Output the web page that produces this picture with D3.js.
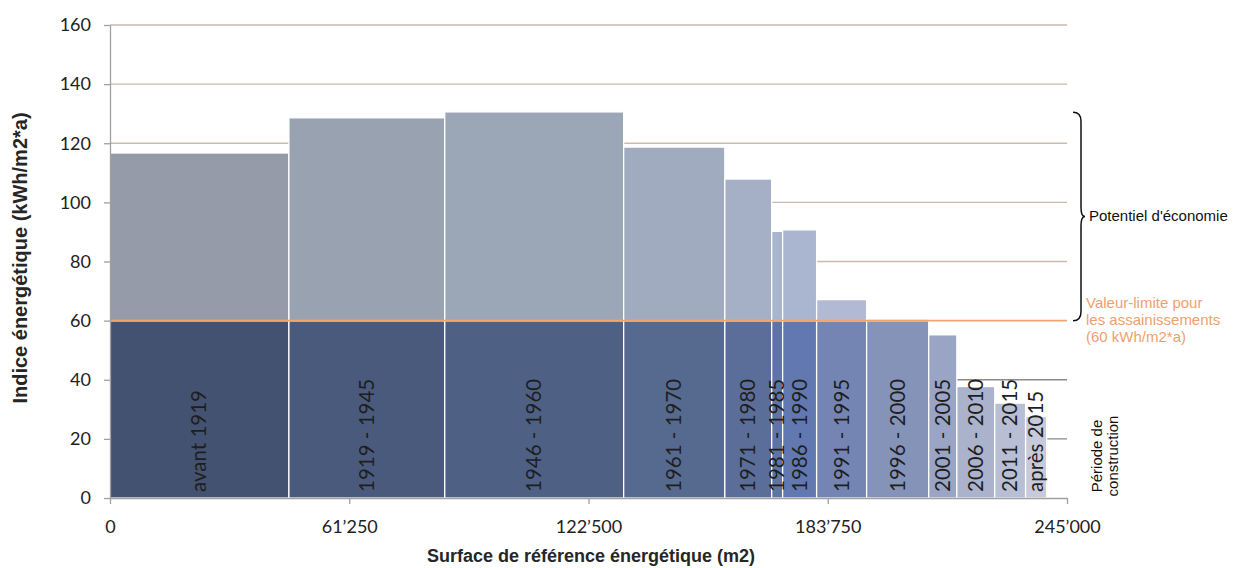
<!DOCTYPE html>
<html>
<head>
<meta charset="utf-8">
<script src="https://cdn.jsdelivr.net/npm/d3@7"></script>
<style>
  body { margin: 0; background: #fff; }
  svg { display: block; }
</style>
</head>
<body>
<div id="chart"></div>
<script>
const periods = ["avant 1919", "1919 - 1945", "1946 - 1960", "1961 - 1970", "1971 - 1980", "1981 - 1985",
    "1986 - 1990", "1991 - 1995", "1996 - 2000", "2001 - 2005", "2006 - 2010", "2011 - 2015", "après 2015"];
const surfaces = [45800, 39900, 45800, 25900, 12000, 2800, 8700, 12800, 15900, 7200, 9700, 7900, 5400]; // m2
const indices = [116.7, 128.6, 130.6, 118.7, 107.9, 90.2, 90.7, 67.1, 60.5, 55.2, 37.7, 32.1, 27.6]; // kWh/m2*a
const limitValue = 60;
const yTicks = [0, 20, 40, 60, 80, 100, 120, 140, 160];
const xTicks = [0, 61250, 122500, 183750, 245000];

// colours for the part below / above the limit
const lowColors = ["#435270", "#4a5a7c", "#4e6185", "#56698f", "#5b6e99", "#5f74a2", "#6179b0",
    "#7585b3", "#8593b8", "#9aa4c5", "#aab2cc", "#b8bed4", "#c6cadb"];
const highColors = ["#959ba8", "#99a2b1", "#9ba6b7", "#a0abbf", "#a5b0c6", "#a8b5cf", "#aab6d0",
    "#b1b9d3", "#b5bdd5", "#bcc3d8", "#c2c8db", "#c8cddf", "#cfd3e2"];

const width = 1234;
const height = 568;

const svg = d3.select("#chart")
    .append("svg")
    .attr("width", width)
    .attr("height", height);

const x = d3.scaleLinear().domain([0, 245000]).range([110, 1067]);
const y = d3.scaleLinear().domain([0, 160]).range([498, 25]);

// cumulative positions
let acc = 0;
const bars = periods.map((p, i) => {
    const d = { period: p, x0: acc, x1: acc + surfaces[i], value: indices[i], i: i };
    acc += surfaces[i];
    return d;
});

// Gridlines
svg.append("g")
    .selectAll("line")
    .data(yTicks.filter((t) => t > 0 && t !== limitValue))
    .join("line")
    .attr("x1", x(0))
    .attr("x2", x(245000))
    .attr("y1", (d) => y(d))
    .attr("y2", (d) => y(d))
    .attr("stroke", (d) => (d < limitValue ? "#8a8a8a" : "#cbb9ad"))
    .attr("stroke-width", 1.3);

// Bars (lower part up to the limit, upper part above it)
const barG = svg.append("g");

barG.selectAll("rect.low")
    .data(bars)
    .join("rect")
    .attr("class", "low")
    .attr("x", (d) => x(d.x0))
    .attr("width", (d) => x(d.x1) - x(d.x0))
    .attr("y", (d) => y(Math.min(d.value, limitValue)))
    .attr("height", (d) => y(0) - y(Math.min(d.value, limitValue)))
    .attr("fill", (d) => lowColors[d.i])
    .attr("stroke", "#fff")
    .attr("stroke-width", 1.3);

barG.selectAll("rect.high")
    .data(bars.filter((d) => d.value > limitValue))
    .join("rect")
    .attr("class", "high")
    .attr("x", (d) => x(d.x0))
    .attr("width", (d) => x(d.x1) - x(d.x0))
    .attr("y", (d) => y(d.value))
    .attr("height", (d) => y(limitValue) - y(d.value))
    .attr("fill", (d) => highColors[d.i])
    .attr("stroke", "#fff")
    .attr("stroke-width", 1.3);

// Limit line
svg.append("line")
    .attr("x1", x(0))
    .attr("x2", x(245000))
    .attr("y1", y(limitValue))
    .attr("y2", y(limitValue))
    .attr("stroke", "#f0a46e")
    .attr("stroke-width", 1.6);

// Period labels (rotated)
barG.selectAll("text")
    .data(bars)
    .join("text")
    .attr("transform", (d) => `translate(${(x(d.x0) + x(d.x1)) / 2 + 7},${y(0) - 6}) rotate(-90)`)
    .attr("text-anchor", "start")
    .attr("font-family", "Lato, sans-serif")
    .attr("font-size", "20.5px")
    .attr("fill", "#1e1e1e")
    .text((d) => d.period);

// Axes
const fmt = d3.formatLocale({ decimal: ".", thousands: "\u2019", grouping: [3], currency: ["", ""] }).format(",");

const yAxis = svg.append("g")
    .attr("transform", `translate(${x(0)},0)`)
    .call(d3.axisLeft(y).tickValues(yTicks).tickSize(6).tickPadding(13).tickSizeOuter(0));

const xAxis = svg.append("g")
    .attr("transform", `translate(0,${y(0)})`)
    .call(d3.axisBottom(x).tickValues(xTicks).tickFormat(fmt).tickSize(6).tickPadding(16).tickSizeOuter(0));

[yAxis, xAxis].forEach((ax) => {
    ax.select(".domain").attr("stroke", "#a0a0a0").attr("stroke-width", 1.3);
    ax.selectAll(".tick line").attr("stroke", "#a0a0a0").attr("stroke-width", 1.3);
    ax.selectAll(".tick text")
        .attr("font-family", "Lato, sans-serif")
        .attr("font-size", "18px")
        .attr("fill", "#222");
});

// Axis titles
svg.append("text")
    .attr("transform", "translate(27,258) rotate(-90)")
    .attr("text-anchor", "middle")
    .attr("font-family", "'Liberation Sans', Arial, sans-serif")
    .attr("font-weight", "bold")
    .attr("font-size", "20px")
    .attr("fill", "#262626")
    .text("Indice énergétique (kWh/m2*a)");

svg.append("text")
    .attr("x", 591)
    .attr("y", 562)
    .attr("text-anchor", "middle")
    .attr("font-family", "'Liberation Sans', Arial, sans-serif")
    .attr("font-weight", "bold")
    .attr("font-size", "18px")
    .attr("fill", "#262626")
    .text("Surface de référence énergétique (m2)");

// Curly brace for savings potential
const bx = 1073;
const bTop = y(130.5);
const bBot = y(limitValue);
const bMid = (bTop + bBot) / 2;
svg.append("path")
    .attr("d", `M${bx},${bTop} Q${bx + 8},${bTop} ${bx + 8},${bTop + 9}
        L${bx + 8},${bMid - 9} Q${bx + 8},${bMid} ${bx + 12},${bMid}
        Q${bx + 8},${bMid} ${bx + 8},${bMid + 9}
        L${bx + 8},${bBot - 9} Q${bx + 8},${bBot} ${bx},${bBot}`)
    .attr("fill", "none")
    .attr("stroke", "#111")
    .attr("stroke-width", 1.5);

svg.append("text")
    .attr("x", 1089)
    .attr("y", bMid + 5)
    .attr("font-family", "'Liberation Sans', Arial, sans-serif")
    .attr("font-size", "15px")
    .attr("fill", "#111")
    .text("Potentiel d'économie");

const limitLines = ["Valeur-limite pour", "les assainissements", "(60 kWh/m2*a)"];
svg.append("text")
    .attr("font-family", "'Liberation Sans', Arial, sans-serif")
    .attr("font-size", "15px")
    .attr("fill", "#f0a070")
    .selectAll("tspan")
    .data(limitLines)
    .join("tspan")
    .attr("x", 1086)
    .attr("y", (d, i) => 308 + i * 17)
    .text((d) => d);

svg.append("text")
    .attr("transform", "translate(1102,456) rotate(-90)")
    .attr("text-anchor", "middle")
    .attr("font-family", "'Liberation Sans', Arial, sans-serif")
    .attr("font-size", "15px")
    .attr("fill", "#111")
    .selectAll("tspan")
    .data(["Période de", "construction"])
    .join("tspan")
    .attr("x", 0)
    .attr("y", (d, i) => i * 16)
    .text((d) => d);
</script>
</body>
</html>
